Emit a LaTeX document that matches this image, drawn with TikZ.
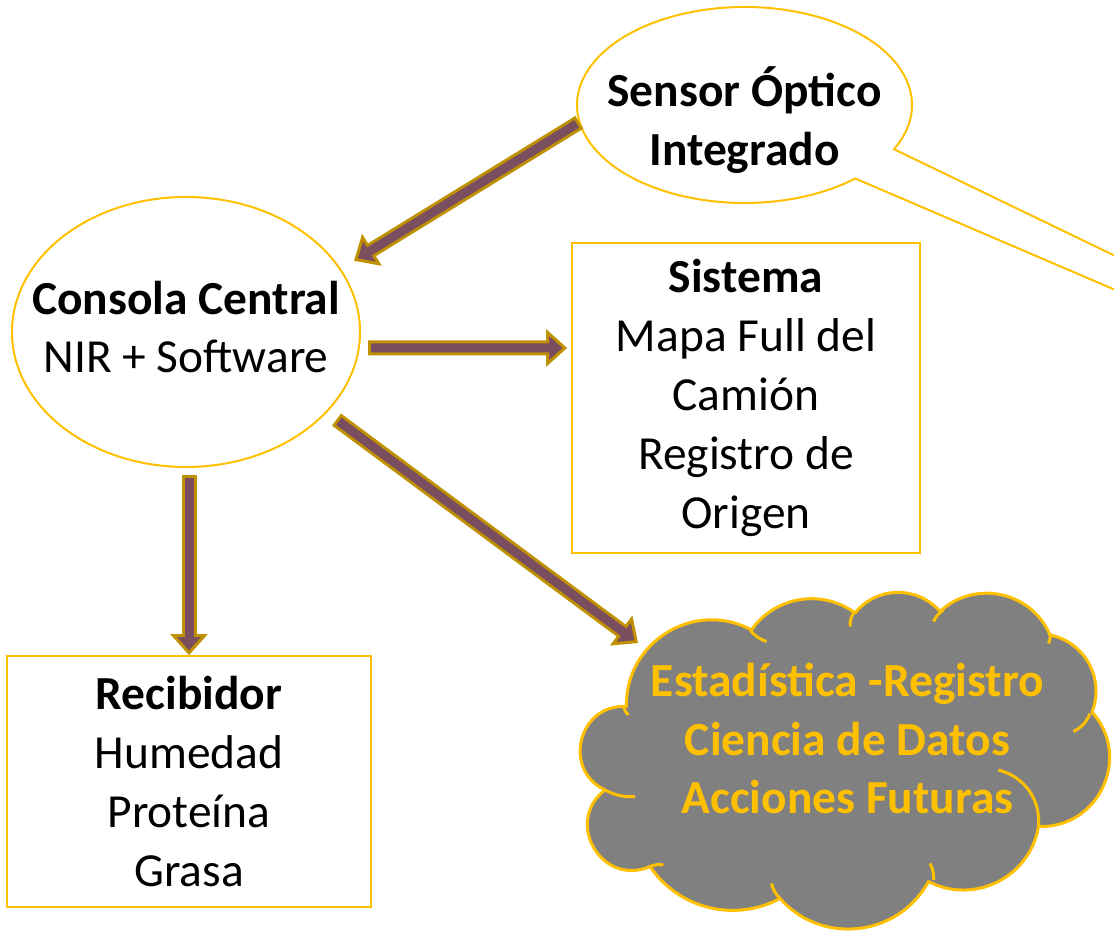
\documentclass[tikz,border=0pt]{standalone}
\usepackage{fontspec}
\setmainfont{Carlito}
\usetikzlibrary{arrows.meta}
\usetikzlibrary{positioning}
\usetikzlibrary{calc}
\usetikzlibrary{shapes.geometric}
\definecolor{oro}{HTML}{FFC000}
\definecolor{ocre}{HTML}{BF9000}
\definecolor{vino}{HTML}{7A4E5E}
\definecolor{gris}{HTML}{808080}
\tikzset{
  texto/.style={align=center, font=\fontsize{27}{33.5}\selectfont, text=black},
  caja/.style={draw=oro, line width=0.035cm, texto},
  globo/.style={ellipse, draw=oro, line width=0.04cm},
  nubeborde/.style={draw=oro, line width=0.06cm, line join=round},
  flecha/.style={draw=ocre, line width=0.30cm,
    -{Triangle[length=0.42cm 0 0, width=0.74cm 0 0, fill=vino, line width=0.06cm 0]},
    postaction={draw=vino, line width=0.18cm, -, shorten <=0.06cm, shorten >=0.32cm}},
}

\begin{document}
\begin{tikzpicture}
    \useasboundingbox (0,0) rectangle (22.28,18.62);

    % nodos
    \node[ellipse, minimum width=6.70cm, minimum height=3.92cm] (sensor) at (14.89,16.52) {};
    \filldraw[draw=oro, fill=white, line width=0.04cm]
        ($(sensor.center)+(-26.8:3.35cm and 1.96cm)$)
        arc[start angle=-26.8, end angle=311.4, x radius=3.35cm, y radius=1.96cm]
        -- (34.82,7.46) -- cycle;
    \node[texto] (sensortxt) at ([yshift=-0.30cm]sensor.center) {\textbf{Sensor Óptico}\\\textbf{Integrado}};

    \node[globo, minimum width=6.96cm, minimum height=5.40cm] (consola) at (3.72,11.98) {};
    \node[texto] (consolatxt) at ([yshift=0.10cm]consola.center) {\textbf{Consola Central}\\NIR + Software};
    \node[caja, minimum width=6.96cm, minimum height=6.20cm] (sistema) at (14.92,10.66) {\textbf{Sistema}\\Mapa Full del\\Camión\\Registro de\\Origen};
    \node[caja, minimum width=7.28cm, minimum height=5.02cm] (recibidor) at (3.78,2.99) {\textbf{Recibidor}\\Humedad\\Proteína\\Grasa};

    % nube
    \filldraw[nubeborde, fill=gris] (12.53,4.49)
        to[bend left=60, looseness=1.13] (15.03,6.02)
        to[bend left=46, looseness=1.00] (17.10,6.36)
        to[bend left=50, looseness=1.04] (18.80,6.39)
        to[bend left=55, looseness=1.08] (21.00,5.92)
        to[bend left=50, looseness=1.04] (21.84,4.38)
        to[bend left=67, looseness=1.22] (20.77,2.09)
        to[bend left=54, looseness=1.07] (18.57,0.99)
        to[bend left=55, looseness=1.08] (15.60,0.65)
        to[bend left=42, looseness=0.98] (13.00,1.29)
        to[bend left=83, looseness=1.51] (12.10,2.82)
        to[bend left=79, looseness=1.42] (12.53,4.49) -- cycle;
    \draw[nubeborde] (19.97,3.22) to[bend left=40] (20.77,2.09);
    \draw[nubeborde] (21.47,3.99) to[bend right=20] (21.80,4.35);
    \draw[nubeborde] (12.10,2.82) to[bend right=15] (12.70,2.69);
    \draw[nubeborde] (15.00,6.02) to[bend right=15] (15.33,5.79);
    \draw[nubeborde] (17.00,6.09) to[bend left=15] (17.07,6.36);
    \draw[nubeborde] (18.67,6.19) to[bend left=15] (18.87,6.42);
    \draw[nubeborde] (20.97,5.75) to[bend right=15] (21.00,5.95);
    \draw[nubeborde] (12.47,4.49) to[bend right=15] (12.57,4.32);
    \draw[nubeborde] (13.00,1.29) to[bend left=15] (13.27,1.32);
    \draw[nubeborde] (15.43,0.95) to[bend right=15] (15.60,0.65);
    \draw[nubeborde] (18.60,1.35) to[bend left=15] (18.67,1.02);
    \node[texto, text=oro] (nube) at (16.95,3.85) {\textbf{Estadística -Registro}\\\textbf{Ciencia de Datos}\\\textbf{Acciones Futuras}};

    % flechas
    \draw[flecha] (sensor.186) -- ([shift={(0.29,0.12)}]consola.23);
    \draw[flecha] ([shift={(0.14,-0.32)}]consola.east) -- ([shift={(-0.08,1.0)}]sistema.west);
    \draw[flecha] ($(recibidor.north |- consola.south)+(0,-0.14)$) -- (recibidor.north);
    \draw[flecha] ([shift={(0.2,-0.13)}]consola.-30) -- ([shift={(-4.19,1.91)}]nube.center);
\end{tikzpicture}
\end{document}
